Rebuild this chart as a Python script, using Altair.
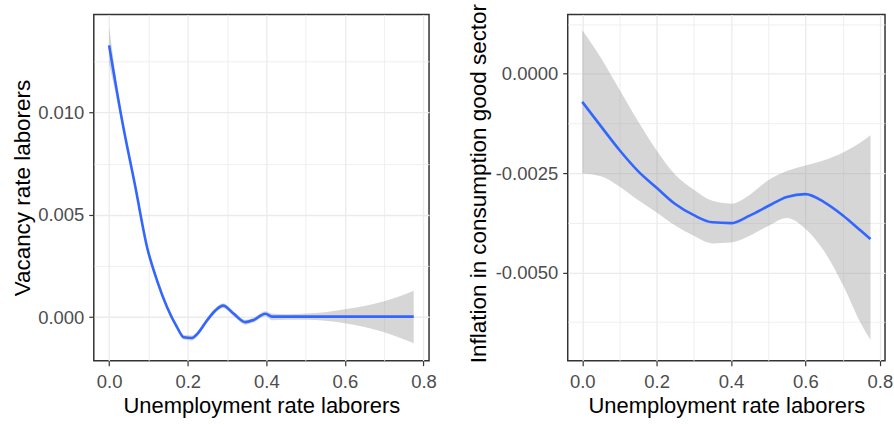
import altair as alt
import pandas as pd

# ---------------- data ----------------
# Left panel: Vacancy rate laborers vs unemployment rate (smooth + CI band)
left_x = [0.0, 0.033, 0.0669, 0.0966, 0.122, 0.1475, 0.173, 0.19, 0.211, 0.2245,
          0.249, 0.2703, 0.2899, 0.317, 0.3466, 0.3678, 0.3975, 0.4145, 0.45,
          0.5, 0.55, 0.6, 0.65, 0.7, 0.775]
left_y = [0.01328, 0.00961, 0.00635, 0.00342, 0.00179, 0.00049, -0.00049, -0.00098,
          -0.00101, -0.00081, -0.00016, 0.00033, 0.00057, 0.00017, -0.00024, -0.00013,
          0.00017, 0.00003, 0.00003, 0.00003, 0.00003, 0.00003, 0.00003, 0.00003, 0.00003]
left_lo = [0.0124, 0.0094, 0.0062, 0.0033, 0.00167, 0.00037, -0.0006, -0.0011,
           -0.00113, -0.00093, -0.00028, 0.00021, 0.00045, 0.00005, -0.00036, -0.00025,
           0.00005, -0.00015, -0.00012, -0.00012, -0.00017, -0.00029, -0.00047, -0.00073, -0.00127]
left_hi = [0.01417, 0.0098, 0.0065, 0.00354, 0.00191, 0.00061, -0.00037, -0.00086,
           -0.00089, -0.00069, -0.00004, 0.00045, 0.00069, 0.00029, -0.00012, -0.00001,
           0.00029, 0.00018, 0.00015, 0.00018, 0.00025, 0.00039, 0.00055, 0.00078, 0.0013]

# Right panel: Inflation in consumption good sector vs unemployment rate
right_x = [0.0, 0.05, 0.1, 0.15, 0.2, 0.25, 0.3, 0.35, 0.4, 0.45, 0.5, 0.55,
           0.6, 0.65, 0.7, 0.75, 0.775]
right_y = [-0.00071, -0.00132, -0.00192, -0.00245, -0.00287, -0.00328, -0.00356,
           -0.00374, -0.00376, -0.00357, -0.00333, -0.00310, -0.00303, -0.00323,
           -0.00356, -0.00396, -0.00416]
right_hi = [0.00109, 0.0004, -0.0004, -0.0012, -0.00193, -0.00254, -0.00292,
            -0.0032, -0.00327, -0.00305, -0.00268, -0.00245, -0.00231, -0.00218,
            -0.00199, -0.00172, -0.00155]
right_lo = [-0.00251, -0.00258, -0.00284, -0.00318, -0.00349, -0.00382, -0.00408,
            -0.00427, -0.00425, -0.00408, -0.00383, -0.00363, -0.0039, -0.00446,
            -0.0053, -0.0063, -0.0067]

x_major = [0.0, 0.2, 0.4, 0.6, 0.8]
x_minor = [0.1, 0.3, 0.5, 0.7]
left_y_major = [0.0, 0.005, 0.010]
left_y_minor = [0.0025, 0.0075, 0.0125]
right_y_major = [0.0, -0.0025, -0.0050]
right_y_minor = [0.00125, -0.00125, -0.00375, -0.00625]

x_title = "Unemployment rate laborers"
left_title = "Vacancy rate laborers"
right_title = "Inflation in consumption good sector"

FONT = "Liberation Sans"
GRID = "#EBEBEB"
DARK = "#333333"


def panel(xs, ys, los, his, xdom, ydom, ymajor, yminor, ylabel_expr,
          ytitle, ytitle_x, ytitle_y, width, height):
    df = pd.DataFrame({"x": xs, "y": ys, "lo": los, "hi": his})
    xscale = alt.Scale(domain=xdom, nice=False, zero=False)
    yscale = alt.Scale(domain=ydom, nice=False, zero=False)

    minor_x = alt.Axis(values=x_minor, grid=True, gridColor=GRID, gridWidth=0.8,
                       labels=False, ticks=False, domain=False, title=None, orient="bottom")
    minor_y = alt.Axis(values=yminor, grid=True, gridColor=GRID, gridWidth=0.8,
                       labels=False, ticks=False, domain=False, title=None, orient="left")
    major_x = alt.Axis(values=x_major, grid=True, gridColor=GRID, gridWidth=1.3,
                       format=".1f", domain=False, orient="bottom",
                       ticks=True, tickSize=5, tickColor=DARK, tickWidth=1.2,
                       labelPadding=7, labelFont=FONT, labelFontSize=18.5,
                       labelColor="#4D4D4D", title=x_title, titleFont=FONT,
                       titleFontSize=22, titleFontWeight="normal", titleColor="#000000",
                       titleBaseline="alphabetic", titleY=52)
    major_y = alt.Axis(values=ymajor, grid=True, gridColor=GRID, gridWidth=1.3,
                       labelExpr=ylabel_expr, domain=False, orient="left",
                       ticks=True, tickSize=5, tickColor=DARK, tickWidth=1.2,
                       labelPadding=5, labelFont=FONT, labelFontSize=18.5,
                       labelColor="#4D4D4D", title=ytitle, titleFont=FONT,
                       titleFontSize=22.5, titleFontWeight="normal", titleColor="#000000",
                       titleBaseline="alphabetic", titleAngle=270, titleAlign="center",
                       titleX=ytitle_x, titleY=ytitle_y)

    band = alt.Chart(df).mark_area(color="#999999", opacity=0.4,
                                   interpolate="monotone").encode(
        x=alt.X("x:Q", scale=xscale, axis=minor_x),
        y=alt.Y("lo:Q", scale=yscale, axis=minor_y),
        y2="hi:Q",
    )
    line = alt.Chart(df).mark_line(color="#3366FF", strokeWidth=2.6,
                                   interpolate="monotone").encode(
        x=alt.X("x:Q", scale=xscale, axis=major_x),
        y=alt.Y("y:Q", scale=yscale, axis=major_y),
    )
    return alt.layer(band, line).resolve_axis(x="independent", y="independent").properties(
        width=width, height=height)


left = panel(left_x, left_y, left_lo, left_hi, [-0.039, 0.814], [-0.00212, 0.01479],
             left_y_major, left_y_minor, "format(datum.value, '.3f')",
             left_title, -64.5, 173.5, 336, 347)
right = panel(right_x, right_y, right_lo, right_hi, [-0.039, 0.814], [-0.00722, 0.00149],
              right_y_major, right_y_minor,
              "replace(format(datum.value, '.4f'), '\u2212', '-')",
              right_title, -82, 169, 318, 347)

chart = alt.hconcat(left, right, spacing=139, bounds="flush").properties(
    padding={"left": 10, "top": 2, "right": 0, "bottom": 0},
    background="white",
).configure_view(stroke=DARK, strokeWidth=1.5)

chart.save("out.html", embed_options={"renderer": "svg", "actions": False})
